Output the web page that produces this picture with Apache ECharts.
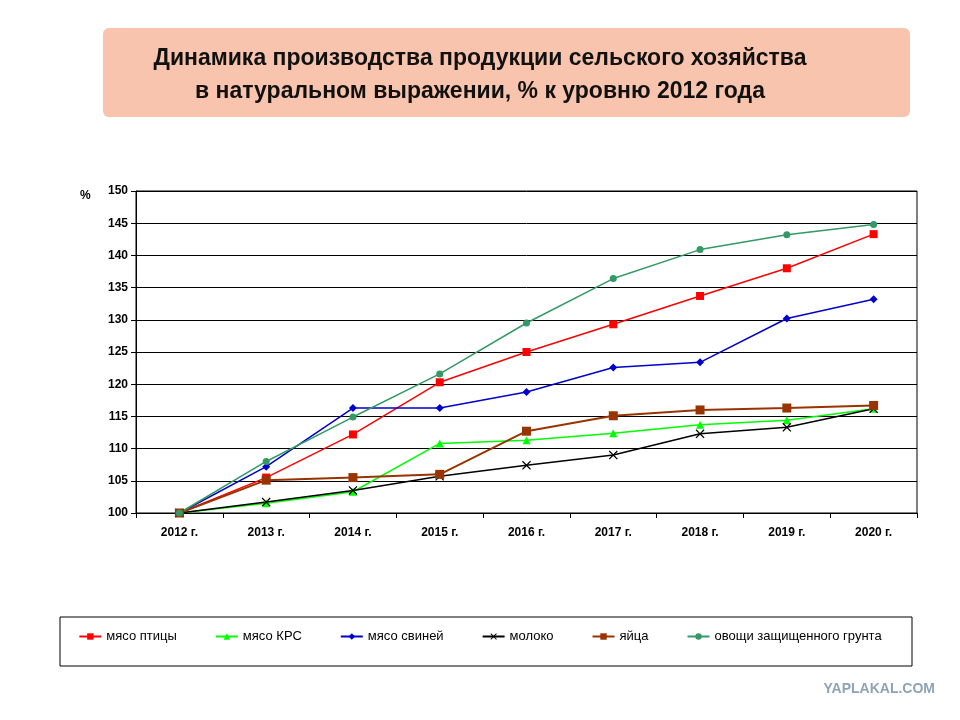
<!DOCTYPE html>
<html><head><meta charset="utf-8">
<script src="https://cdn.jsdelivr.net/npm/echarts@6/dist/echarts.min.js"></script>
<style>html,body{margin:0;padding:0;background:#fff}#c{width:960px;height:720px}</style>
</head><body><div id="c"></div>
<script>
const categories = ['2012 г.','2013 г.','2014 г.','2015 г.','2016 г.','2017 г.','2018 г.','2019 г.','2020 г.'];
const poultry = [100,105.5,112.2,120.3,125.0,129.3,133.7,138.0,143.3];
const beef = [100,101.5,103.3,110.8,111.3,112.4,113.7,114.4,116.2];
const pork = [100,107.2,116.3,116.3,118.8,122.6,123.4,130.2,133.2];
const milk = [100,101.7,103.5,105.7,107.4,109.0,112.3,113.3,116.2];
const eggs = [100,105.1,105.5,106.0,112.7,115.1,116.0,116.3,116.7];
const vegs = [100,108.0,114.9,121.6,129.5,136.4,140.9,143.2,144.8];
const F = 'Liberation Sans Narrow, Liberation Sans, Arial';
const chart = echarts.init(document.getElementById('c'));
function s(name, data, color, symbol, size, w){
  return {name, type:'line', data, symbol, symbolSize:size, showSymbol:true,
    lineStyle:{color, width:w||1.5}, itemStyle:{color}, smooth:false};
}
chart.setOption({
  animation:false,
  graphic:[
    {type:'rect', shape:{x:103,y:28,width:807,height:89,r:6}, style:{fill:'#f9c4ad'}},
    {type:'text', left:'center', top:42, style:{text:'Динамика производства продукции сельского хозяйства\nв натуральном выражении, % к уровню 2012 года', font:'bold 23px Liberation Sans, Arial', fill:'#111', textAlign:'center', lineHeight:33}},
    {type:'rect', shape:{x:60,y:617,width:852,height:49}, style:{fill:'none', stroke:'#000', lineWidth:1}},
    {type:'text', left:80, top:190, style:{text:'%', font:'bold 12px '+F, fill:'#000'}},
    {type:'text', right:25, top:682, style:{text:'YAPLAKAL.COM', font:'bold 14px '+F, fill:'#8fa3b8'}}
  ],
  grid:{left:136, right:43, top:191, bottom:207, show:true, borderColor:'#000', borderWidth:1},
  legend:{bottom:72, left:'center', itemGap:38, itemWidth:22, itemHeight:8,
    textStyle:{fontFamily:F, fontSize:13, color:'#000'}},
  xAxis:{type:'category', data:categories, boundaryGap:true,
    axisLine:{lineStyle:{color:'#000'}}, axisTick:{show:true, lineStyle:{color:'#000'}},
    axisLabel:{fontFamily:F, fontWeight:'bold', fontSize:12, color:'#000', margin:14}},
  yAxis:{type:'value', min:100, max:150, interval:5,
    axisLine:{show:true, lineStyle:{color:'#000'}}, axisTick:{show:true, lineStyle:{color:'#000'}},
    splitLine:{lineStyle:{color:'#000', width:1}},
    axisLabel:{fontFamily:F, fontWeight:'bold', fontSize:12, color:'#000'}},
  series:[
    s('мясо птицы', poultry, '#ff0000', 'rect', 8),
    s('мясо КРС', beef, '#00ff00', 'triangle', 8),
    s('мясо свиней', pork, '#0000cc', 'diamond', 8),
    s('молоко', milk, '#000000', 'path://M0,1L1,0L5,4L9,0L10,1L6,5L10,9L9,10L5,6L1,10L0,9L4,5Z', 9),
    s('яйца', eggs, '#993300', 'rect', 9, 2),
    s('овощи защищенного грунта', vegs, '#339966', 'circle', 7)
  ]
});
</script></body></html>
